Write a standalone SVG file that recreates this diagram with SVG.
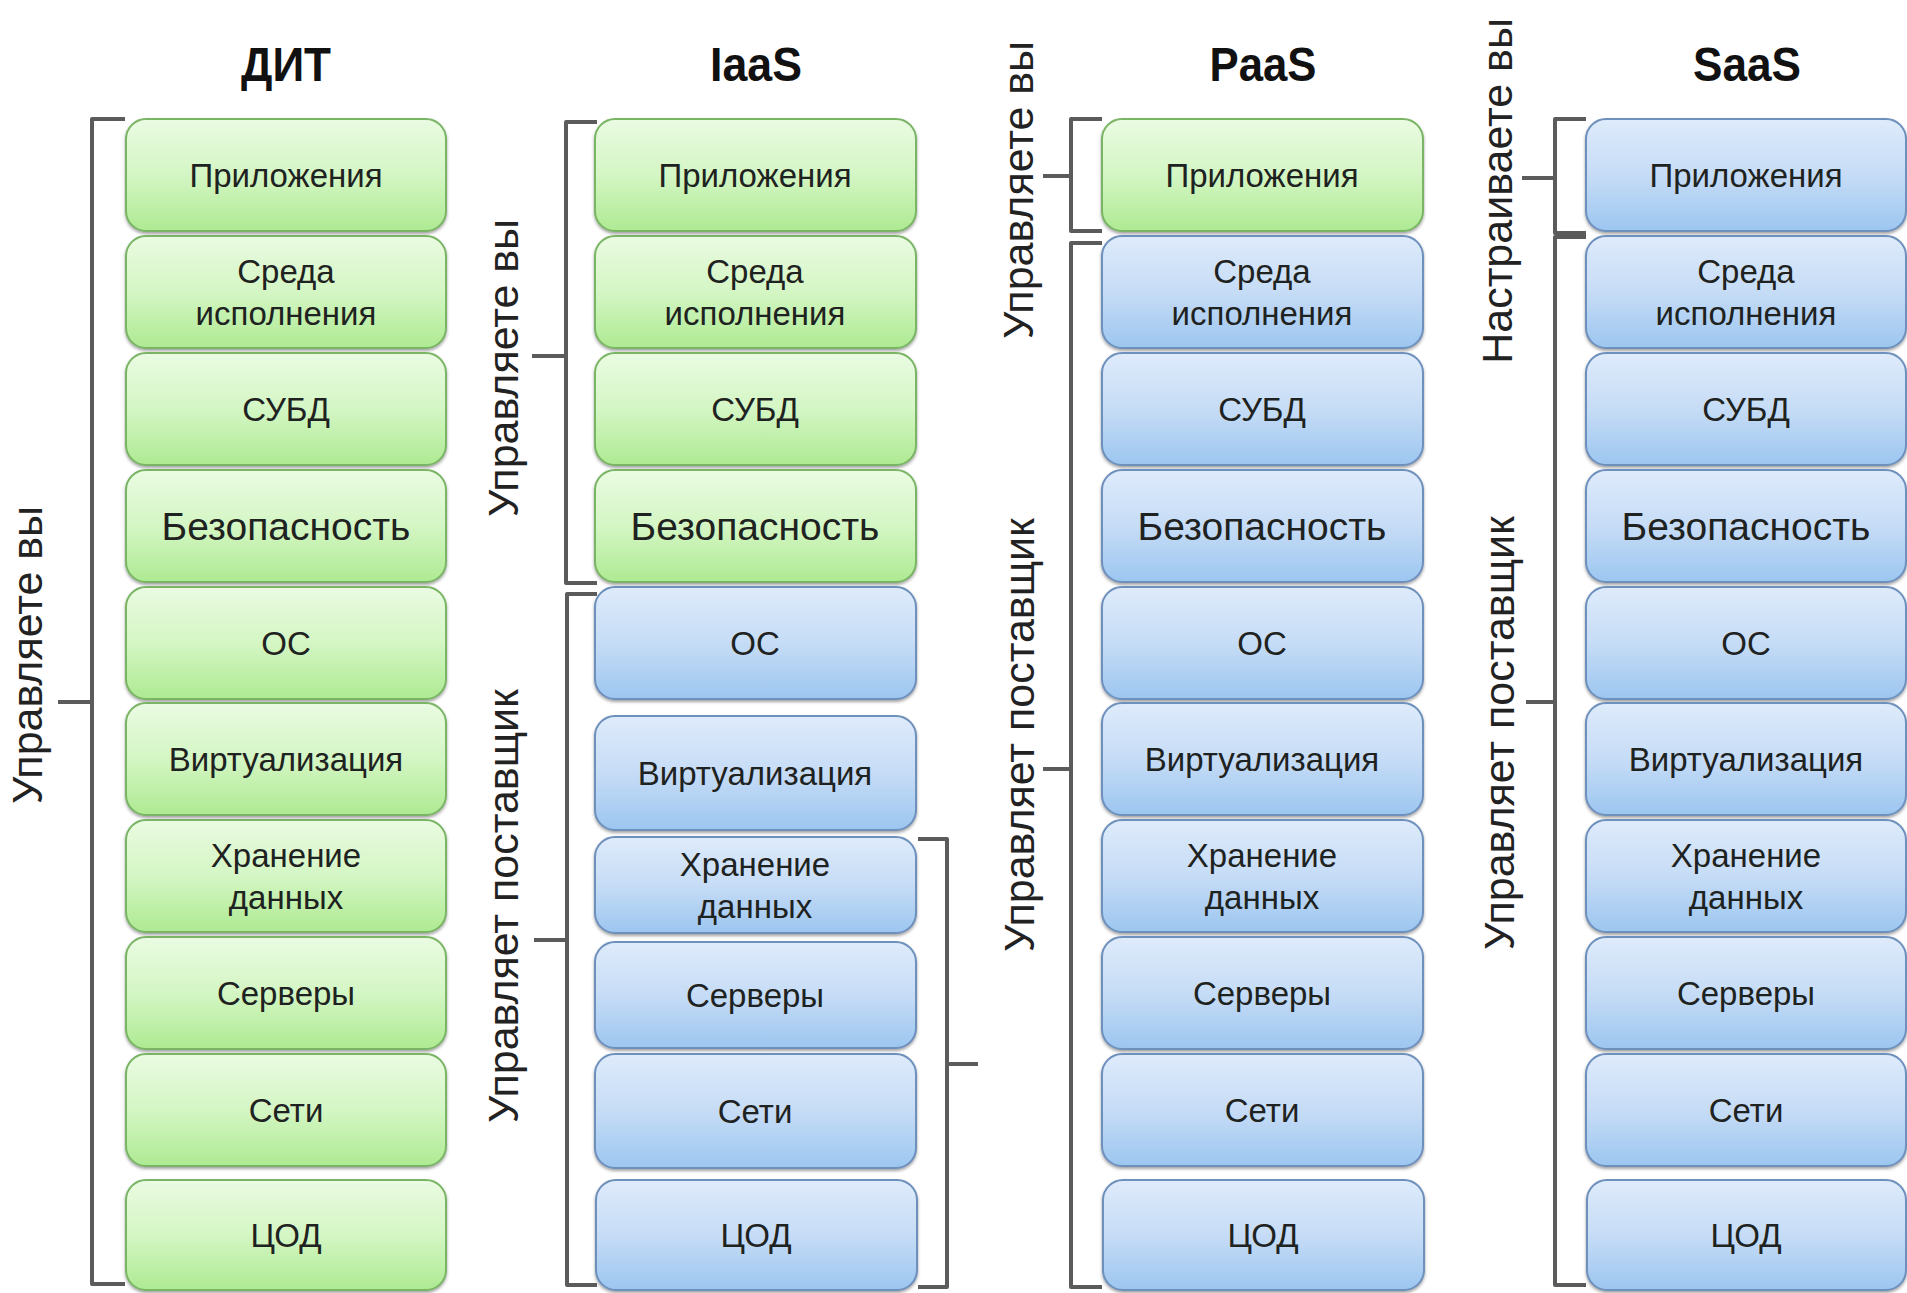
<svg xmlns="http://www.w3.org/2000/svg" width="1907" height="1293" viewBox="0 0 1907 1293">
<defs>
<linearGradient id="gg" x1="0" y1="0" x2="0" y2="1"><stop offset="0" stop-color="#eafbe2"/><stop offset="0.5" stop-color="#d4f6c4"/><stop offset="1" stop-color="#aeea92"/></linearGradient>
<linearGradient id="bg" x1="0" y1="0" x2="0" y2="1"><stop offset="0" stop-color="#deebfb"/><stop offset="0.5" stop-color="#c6dcf6"/><stop offset="1" stop-color="#9cc6f0"/></linearGradient>
<filter id="sh" x="-5%" y="-5%" width="110%" height="115%"><feDropShadow dx="0" dy="2" stdDeviation="1.5" flood-color="#333" flood-opacity="0.45"/></filter>
</defs>
<style>
.g{fill:url(#gg);stroke:#7ab565;stroke-width:2;filter:url(#sh)}
.b{fill:url(#bg);stroke:#6e90bc;stroke-width:2;filter:url(#sh)}
text{font-family:"Liberation Sans",Arial,sans-serif;fill:#1e2220;text-anchor:middle}
.t{font-size:33px}
.s{font-size:39px}
.h{font-size:49px;font-weight:bold;fill:#111}
.l{font-size:43px;fill:#222}
.br{fill:none;stroke:#5b5b5b;stroke-width:4;stroke-linejoin:round}
</style>
<rect width="1907" height="1293" fill="#fff"/>

<g id="titles">
<text class="h" x="286" y="81" textLength="90" lengthAdjust="spacingAndGlyphs">ДИТ</text>
<text class="h" x="756" y="81" textLength="92" lengthAdjust="spacingAndGlyphs">IaaS</text>
<text class="h" x="1263" y="81" textLength="107" lengthAdjust="spacingAndGlyphs">PaaS</text>
<text class="h" x="1747" y="81" textLength="108" lengthAdjust="spacingAndGlyphs">SaaS</text>
</g>

<g id="connectors">
<path class="br" d="M125,119 H92 V1284 H125 M58,702 H92"/>
<path class="br" d="M597,122 H566 V583 H597 M532,356 H566"/>
<path class="br" d="M597,594 H567 V1285 H597 M534,940 H567"/>
<path class="br" d="M918,839 H947 V1287 H918 M947,1064 H978"/>
<path class="br" d="M1102,119 H1071 V231 H1102 M1043,176 H1071"/>
<path class="br" d="M1102,243 H1071 V1287 H1102 M1043,769 H1071"/>
<path class="br" d="M1586,119 H1555 V233 H1586 M1522,178 H1555"/>
<path class="br" d="M1586,237 H1555 V1285 H1586 M1526,702 H1555"/>
</g>

<g id="labels">
<text class="l" transform="translate(42,655) rotate(-90)">Управляете вы</text>
<text class="l" transform="translate(518,368) rotate(-90)">Управляете вы</text>
<text class="l" transform="translate(518,906) rotate(-90)">Управляет поставщик</text>
<text class="l" transform="translate(1033,190) rotate(-90)">Управляете вы</text>
<text class="l" transform="translate(1034,735) rotate(-90)">Управляет поставщик</text>
<text class="l" transform="translate(1512,191) rotate(-90)">Настраиваете вы</text>
<text class="l" transform="translate(1514,733) rotate(-90)">Управляет поставщик</text>
</g>

<!-- ДИТ -->
<g id="dit-app"><rect class="g" x="126" y="119" width="320" height="112" rx="20"/><text class="t" x="286" y="187">Приложения</text></g>
<g id="dit-runtime"><rect class="g" x="126" y="236" width="320" height="112" rx="20"/><text class="t" x="286" y="283">Среда</text><text class="t" x="286" y="325">исполнения</text></g>
<g id="dit-db"><rect class="g" x="126" y="353" width="320" height="112" rx="20"/><text class="t" x="286" y="421">СУБД</text></g>
<g id="dit-sec"><rect class="g" x="126" y="470" width="320" height="112" rx="20"/><text class="s" x="286" y="540">Безопасность</text></g>
<g id="dit-os"><rect class="g" x="126" y="587" width="320" height="112" rx="20"/><text class="t" x="286" y="655">ОС</text></g>
<g id="dit-virt"><rect class="g" x="126" y="703" width="320" height="112" rx="20"/><text class="t" x="286" y="771">Виртуализация</text></g>
<g id="dit-stor"><rect class="g" x="126" y="820" width="320" height="112" rx="20"/><text class="t" x="286" y="867">Хранение</text><text class="t" x="286" y="909">данных</text></g>
<g id="dit-srv"><rect class="g" x="126" y="937" width="320" height="112" rx="20"/><text class="t" x="286" y="1005">Серверы</text></g>
<g id="dit-net"><rect class="g" x="126" y="1054" width="320" height="112" rx="20"/><text class="t" x="286" y="1122">Сети</text></g>
<g id="dit-dc"><rect class="g" x="126" y="1180" width="320" height="110" rx="20"/><text class="t" x="286" y="1247">ЦОД</text></g>

<!-- IaaS -->
<g id="iaas-app"><rect class="g" x="595" y="119" width="321" height="112" rx="20"/><text class="t" x="755" y="187">Приложения</text></g>
<g id="iaas-runtime"><rect class="g" x="595" y="236" width="321" height="112" rx="20"/><text class="t" x="755" y="283">Среда</text><text class="t" x="755" y="325">исполнения</text></g>
<g id="iaas-db"><rect class="g" x="595" y="353" width="321" height="112" rx="20"/><text class="t" x="755" y="421">СУБД</text></g>
<g id="iaas-sec"><rect class="g" x="595" y="470" width="321" height="112" rx="20"/><text class="s" x="755" y="540">Безопасность</text></g>
<g id="iaas-os"><rect class="b" x="595" y="587" width="321" height="112" rx="20"/><text class="t" x="755" y="655">ОС</text></g>
<g id="iaas-virt"><rect class="b" x="595" y="716" width="321" height="114" rx="20"/><text class="t" x="755" y="785">Виртуализация</text></g>
<g id="iaas-stor"><rect class="b" x="595" y="837" width="321" height="96" rx="20"/><text class="t" x="755" y="876">Хранение</text><text class="t" x="755" y="918">данных</text></g>
<g id="iaas-srv"><rect class="b" x="595" y="942" width="321" height="106" rx="20"/><text class="t" x="755" y="1007">Серверы</text></g>
<g id="iaas-net"><rect class="b" x="595" y="1054" width="321" height="114" rx="20"/><text class="t" x="755" y="1123">Сети</text></g>
<g id="iaas-dc"><rect class="b" x="596" y="1180" width="321" height="110" rx="20"/><text class="t" x="756" y="1247">ЦОД</text></g>

<!-- PaaS -->
<g id="paas-app"><rect class="g" x="1102" y="119" width="321" height="112" rx="20"/><text class="t" x="1262" y="187">Приложения</text></g>
<g id="paas-runtime"><rect class="b" x="1102" y="236" width="321" height="112" rx="20"/><text class="t" x="1262" y="283">Среда</text><text class="t" x="1262" y="325">исполнения</text></g>
<g id="paas-db"><rect class="b" x="1102" y="353" width="321" height="112" rx="20"/><text class="t" x="1262" y="421">СУБД</text></g>
<g id="paas-sec"><rect class="b" x="1102" y="470" width="321" height="112" rx="20"/><text class="s" x="1262" y="540">Безопасность</text></g>
<g id="paas-os"><rect class="b" x="1102" y="587" width="321" height="112" rx="20"/><text class="t" x="1262" y="655">ОС</text></g>
<g id="paas-virt"><rect class="b" x="1102" y="703" width="321" height="112" rx="20"/><text class="t" x="1262" y="771">Виртуализация</text></g>
<g id="paas-stor"><rect class="b" x="1102" y="820" width="321" height="112" rx="20"/><text class="t" x="1262" y="867">Хранение</text><text class="t" x="1262" y="909">данных</text></g>
<g id="paas-srv"><rect class="b" x="1102" y="937" width="321" height="112" rx="20"/><text class="t" x="1262" y="1005">Серверы</text></g>
<g id="paas-net"><rect class="b" x="1102" y="1054" width="321" height="112" rx="20"/><text class="t" x="1262" y="1122">Сети</text></g>
<g id="paas-dc"><rect class="b" x="1103" y="1180" width="321" height="110" rx="20"/><text class="t" x="1263" y="1247">ЦОД</text></g>

<!-- SaaS -->
<g id="saas-app"><rect class="b" x="1586" y="119" width="320" height="112" rx="20"/><text class="t" x="1746" y="187">Приложения</text></g>
<g id="saas-runtime"><rect class="b" x="1586" y="236" width="320" height="112" rx="20"/><text class="t" x="1746" y="283">Среда</text><text class="t" x="1746" y="325">исполнения</text></g>
<g id="saas-db"><rect class="b" x="1586" y="353" width="320" height="112" rx="20"/><text class="t" x="1746" y="421">СУБД</text></g>
<g id="saas-sec"><rect class="b" x="1586" y="470" width="320" height="112" rx="20"/><text class="s" x="1746" y="540">Безопасность</text></g>
<g id="saas-os"><rect class="b" x="1586" y="587" width="320" height="112" rx="20"/><text class="t" x="1746" y="655">ОС</text></g>
<g id="saas-virt"><rect class="b" x="1586" y="703" width="320" height="112" rx="20"/><text class="t" x="1746" y="771">Виртуализация</text></g>
<g id="saas-stor"><rect class="b" x="1586" y="820" width="320" height="112" rx="20"/><text class="t" x="1746" y="867">Хранение</text><text class="t" x="1746" y="909">данных</text></g>
<g id="saas-srv"><rect class="b" x="1586" y="937" width="320" height="112" rx="20"/><text class="t" x="1746" y="1005">Серверы</text></g>
<g id="saas-net"><rect class="b" x="1586" y="1054" width="320" height="112" rx="20"/><text class="t" x="1746" y="1122">Сети</text></g>
<g id="saas-dc"><rect class="b" x="1587" y="1180" width="319" height="110" rx="20"/><text class="t" x="1746" y="1247">ЦОД</text></g>
</svg>
